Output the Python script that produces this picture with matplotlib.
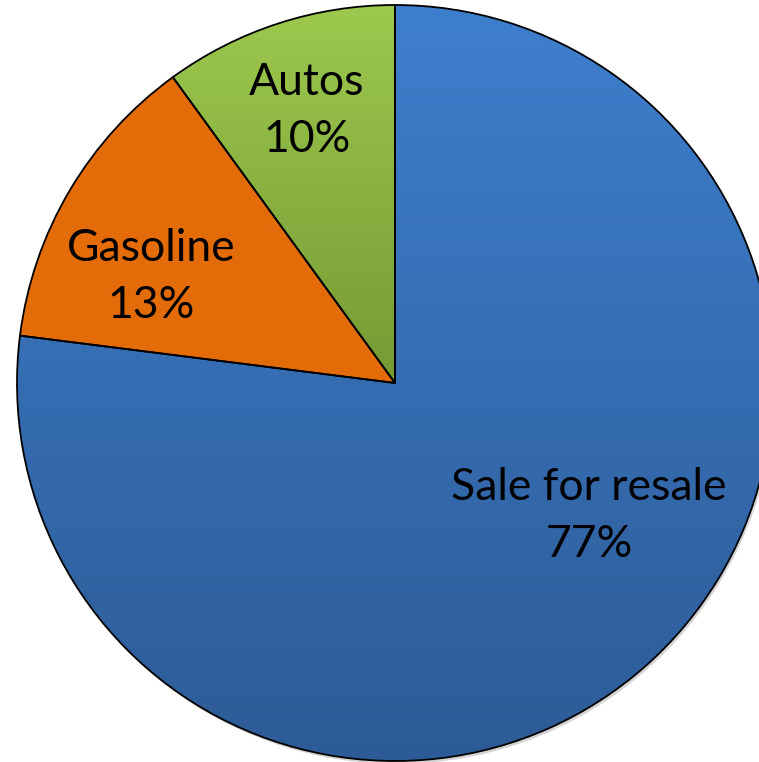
import matplotlib.pyplot as plt
import numpy as np
from matplotlib.colors import LinearSegmentedColormap
from matplotlib.patches import Circle

# Share of purchases by category
labels = ["Sale for resale", "Gasoline", "Autos"]
shares = [77, 13, 10]

# Fill colours per slice: (top, bottom) of a vertical gradient
fills = [("#3E7FCD", "#2D5B97"), ("#E36C09", "#E36C09"), ("#9CC94D", "#769A35")]

# Label anchor points in pixel coordinates
label_pos = [(589, 246), (151, 485), (307, 651)]

W, H = 759, 762
center = (395, 379)
radius = 378

fig = plt.figure(figsize=(W / 100, H / 100), dpi=100)
ax = fig.add_axes([0, 0, 1, 1])

# soft drop shadow behind the pie
ax.add_patch(Circle((center[0] + 2, center[1] - 3), radius, fc="#d4d4d4", ec="none", zorder=0))

wedges, _ = ax.pie(shares, startangle=90, counterclock=False, center=center, radius=radius,
                   wedgeprops=dict(edgecolor="black", linewidth=1.3, zorder=3))
ax.set_xlim(0, W)
ax.set_ylim(0, H)

inv = ax.transData.inverted()
grad = np.linspace(0, 1, 256).reshape(-1, 1)
for w, (top, bottom) in zip(wedges, fills):
    verts = inv.transform(w.get_verts())
    x0, y0 = verts.min(axis=0)
    x1, y1 = verts.max(axis=0)
    cmap = LinearSegmentedColormap.from_list("g", [top, bottom])
    # row 0 of the gradient sits at the top of the slice
    im = ax.imshow(grad, cmap=cmap, extent=[x0, x1, y0, y1], aspect="auto",
                   origin="upper", zorder=2, interpolation="bilinear")
    im.set_clip_path(w)
    w.set_facecolor("none")

for (x, y), name, pct in zip(label_pos, labels, shares):
    ax.text(x, y, f"{name}\n{pct}%", ha="center", va="center", fontsize=32,
            family=["Lato", "DejaVu Sans"], linespacing=1.5, zorder=4)

ax.set_xlim(0, W)
ax.set_ylim(0, H)
ax.set_aspect("equal")
ax.set_axis_off()

fig.savefig("out.png", dpi=100, facecolor="white")
